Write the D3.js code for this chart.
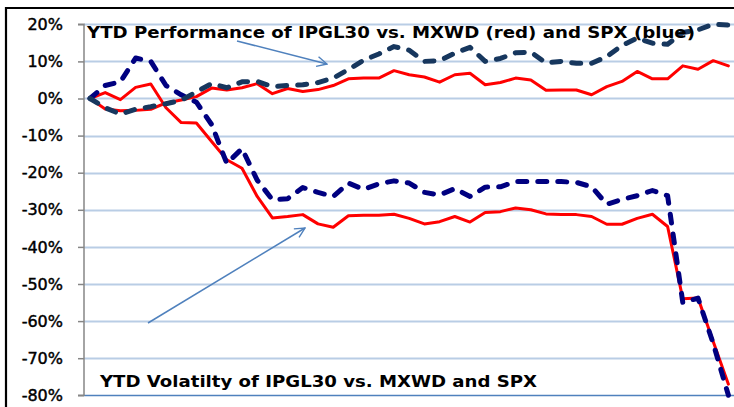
<!DOCTYPE html>
<html>
<head>
<meta charset="utf-8">
<script src="https://cdn.jsdelivr.net/npm/d3@7"></script>
<style>
  html, body { margin: 0; padding: 0; background: #fff; }
  svg { display: block; }
</style>
</head>
<body>
<svg id="chart" width="734" height="407"></svg>
<script>
// ---- data (percent, year-to-date, weekly observations) ----
const weeks = [1,2,3,4,5,6,7,8,9,10,11,12,13,14,15,16,17,18,19,20,21,22,23,24,25,26,27,28,29,30,31,32,33,34,35,36,37,38,39,40,41,42,43];

const perfVsMXWD = [0,-2.8,-3.3,-3.2,-2.9,-1.2,-0.4,0.5,2.8,2.3,2.9,4.0,1.3,2.7,1.9,2.4,3.5,5.3,5.5,5.5,7.5,6.4,5.8,4.4,6.4,6.8,3.7,4.3,5.5,5.0,2.2,2.3,2.3,1.0,3.2,4.6,7.3,5.3,5.3,8.8,7.9,10.2,8.8];
const perfVsSPX  = [0,-2.5,-4.2,-2.9,-2.2,-1.4,-0.5,1.8,4.0,2.9,4.5,4.6,3.2,3.5,3.7,4.3,5.5,7.8,10.3,12.0,14.0,13.0,10.0,10.2,12.2,13.8,10.0,10.8,12.3,12.5,9.6,10.0,9.5,9.5,11.3,14.3,16.3,14.9,14.6,17.8,18.5,20.0,19.8];
const volVsMXWD  = [0,1.6,-0.3,3.0,3.9,-2.5,-6.5,-6.6,-11.6,-16.5,-18.8,-26.4,-32.2,-31.8,-31.3,-33.8,-34.7,-31.6,-31.5,-31.5,-31.2,-32.3,-33.8,-33.2,-31.8,-33.3,-30.7,-30.5,-29.5,-30.0,-31.1,-31.3,-31.3,-31.8,-33.9,-33.9,-32.3,-31.2,-34.5,-54.0,-53.8,-65.5,-77.0];
const volVsSPX   = [0,3.5,4.5,10.9,10.0,3.5,1.0,-1.0,-7.0,-17.5,-13.5,-22.0,-27.3,-27.0,-24.0,-25.3,-26.4,-22.8,-24.5,-23.0,-22.2,-22.8,-25.3,-26.0,-24.3,-26.4,-23.9,-23.8,-22.4,-22.4,-22.4,-22.4,-22.6,-23.8,-28.5,-27.2,-26.2,-24.8,-26.2,-55.0,-53.8,-66.0,-80.0];

const tickValues = [20,10,0,-10,-20,-30,-40,-50,-60,-70,-80];
const tickLabels = ["20%","10%","0%","-10%","-20%","-30%","-40%","-50%","-60%","-70%","-80%"];

const perfTitle = "YTD Performance of IPGL30 vs. MXWD (red) and SPX (blue)";
const volTitle  = "YTD Volatilty of IPGL30 vs. MXWD and SPX";

// ---- layout ----
const svg = d3.select("#chart");
const W = 734, H = 407;
const axisX = 84, plotRight = 734;

const x = d3.scaleLinear().domain([weeks[0], weeks[weeks.length-1]]).range([90, 728.4]);
const y = d3.scaleLinear().domain([-80, 20]).range([395.3, 24.3]);

svg.append("rect").attr("width", W).attr("height", H).attr("fill", "#fff");

// outer frame (partially cropped)
svg.append("path")
  .attr("d", `M6,${H+5} L6,8 L${W+5},8`)
  .attr("fill", "none").attr("stroke", "#000").attr("stroke-width", 2.2);

// gridlines
svg.append("g").selectAll("line")
  .data(tickValues.filter(v => v !== -80))
  .join("line")
  .attr("x1", axisX).attr("x2", plotRight)
  .attr("y1", d => Math.round(y(d)) + 0.5).attr("y2", d => Math.round(y(d)) + 0.5)
  .attr("stroke", "#B9CDE5").attr("stroke-width", 2);

// bottom baseline
svg.append("line")
  .attr("x1", axisX).attr("x2", plotRight)
  .attr("y1", Math.round(y(-80)) + 0.5).attr("y2", Math.round(y(-80)) + 0.5)
  .attr("stroke", "#4F81BD").attr("stroke-width", 1.5);

// y axis
const yAxis = d3.axisLeft(y)
  .tickValues(tickValues)
  .tickFormat((d, i) => tickLabels[i])
  .tickSize(6).tickPadding(15);
const gy = svg.append("g").attr("transform", `translate(${axisX},0)`).call(yAxis);
gy.select(".domain").attr("stroke", "#868686").attr("stroke-width", 1.5)
  .attr("d", `M-6,${y(20)}H0V${y(-80)}H-6`);
gy.selectAll(".tick line").attr("stroke", "#868686").attr("stroke-width", 1.5);
gy.selectAll(".tick text")
  .attr("font-family", "DejaVu Sans, Verdana, sans-serif")
  .attr("font-size", 16).attr("fill", "#000")
  .attr("stroke", "#000").attr("stroke-width", 0.45);

// lines
const line = d3.line().x((d, i) => x(weeks[i])).y(d => y(d));

function drawLine(data, color, width, dash) {
  const p = svg.append("path").datum(data)
    .attr("d", line).attr("fill", "none")
    .attr("stroke", color).attr("stroke-width", width)
    .attr("stroke-linejoin", "round")
    .attr("stroke-linecap", "round");
  if (dash) p.attr("stroke-dasharray", dash);
}
drawLine(volVsMXWD, "#FF0000", 3, null);
drawLine(perfVsMXWD, "#FF0000", 3, null);
drawLine(volVsSPX, "#000080", 5, "9 11");
drawLine(perfVsSPX, "#17375E", 5, "9 11");

// arrows
const defs = svg.append("defs");
defs.append("marker")
  .attr("id", "arrow").attr("viewBox", "0 0 12 12")
  .attr("refX", 11).attr("refY", 6)
  .attr("markerWidth", 12).attr("markerHeight", 12)
  .attr("markerUnits", "userSpaceOnUse")
  .attr("orient", "auto")
  .append("path").attr("d", "M1,1 L11,6 L1,11")
  .attr("fill", "none").attr("stroke", "#4F81BD").attr("stroke-width", 1.4);

svg.append("line")
  .attr("x1", 237).attr("y1", 41).attr("x2", 327).attr("y2", 64)
  .attr("stroke", "#4F81BD").attr("stroke-width", 1.5)
  .attr("marker-end", "url(#arrow)");
svg.append("line")
  .attr("x1", 148).attr("y1", 323).attr("x2", 305).attr("y2", 228)
  .attr("stroke", "#4F81BD").attr("stroke-width", 1.5)
  .attr("marker-end", "url(#arrow)");

// annotation texts
svg.append("text")
  .attr("x", 87).attr("y", 38)
  .attr("font-family", "DejaVu Sans, Verdana, sans-serif")
  .attr("font-weight", "bold").attr("font-size", 15)
  .attr("textLength", 608).attr("lengthAdjust", "spacingAndGlyphs")
  .attr("fill", "#000").text(perfTitle);
svg.append("text")
  .attr("x", 100).attr("y", 387)
  .attr("font-family", "DejaVu Sans, Verdana, sans-serif")
  .attr("font-weight", "bold").attr("font-size", 16)
  .attr("textLength", 437).attr("lengthAdjust", "spacingAndGlyphs")
  .attr("fill", "#000").text(volTitle);
</script>
</body>
</html>
